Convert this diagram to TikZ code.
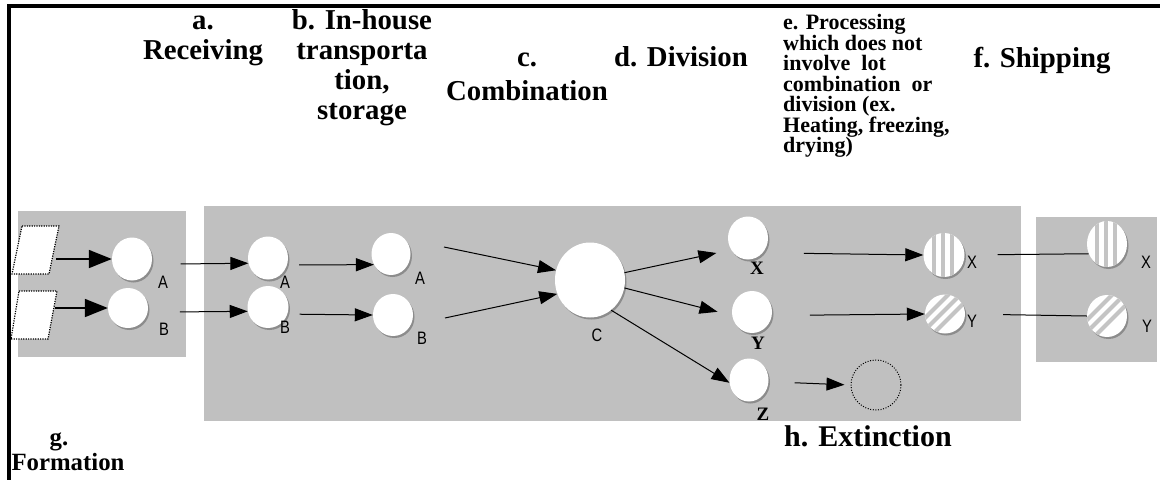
\documentclass[tikz,border=0pt]{standalone}
\usepackage{fontspec}
\setmainfont{Liberation Serif}
\newfontfamily\labfont{Liberation Sans}
\usetikzlibrary{arrows.meta,shapes.geometric,shadows,calc}
\definecolor{boxgray}{HTML}{C0C0C0}
\definecolor{shadowgray}{HTML}{8C8C8C}
\definecolor{stripegray}{HTML}{C4C4C4}
\newcommand\tightls{\lineskiplimit=-50pt\relax}
\begin{document}
\begin{tikzpicture}[x=1pt,y=-1pt,
  lot/.style={ellipse, fill=white, inner sep=0pt,
    drop shadow={shadow xshift=1.5pt, shadow yshift=-2pt, fill=shadowgray, opacity=1}},
  vstripes/.style={path picture={
    \foreach \d in {-12,-3,6}{\fill[stripegray] ([xshift=\d pt]path picture bounding box.north) rectangle ([xshift=\d pt+4pt]path picture bounding box.south);}}},
  dstripes/.style={path picture={
    \foreach \d in {-16,-4,8}{\draw[stripegray, line width=4pt] ([xshift=\d pt]path picture bounding box.center) ++(-30pt,-30pt) -- ++(60pt,60pt);}}},
  para/.style={draw, fill=white, line width=1.2pt, dash pattern=on 1.2pt off 1.2pt},
  grbox/.style={fill=boxgray, draw=none},
  hd/.style={font=\bfseries\fontsize{28.8}{30}\selectfont\tightls, align=center, inner sep=0pt},
  lab/.style={font=\labfont\fontsize{18}{18}\selectfont, inner sep=0pt},
  blab/.style={font=\bfseries\fontsize{19}{19}\selectfont, inner sep=0pt},
  bigarr/.style={-{Triangle[length=23pt,width=18pt]}, line width=1.8pt},
  arr/.style={-{Triangle[length=18pt,width=13pt]}, line width=1pt},
  plain/.style={line width=1pt}
]
\useasboundingbox (0,0) rectangle (1160,480);
% frame
\draw[line width=4pt] (1160,5.5) -- (9,5.5) -- (9,480);
% grey boxes
\fill[grbox] (18,211) rectangle (186,357);
\fill[grbox] (204,206) rectangle (1021,421);
\fill[grbox] (1036,217) rectangle (1157,362);

% headings
\node[hd, anchor=north] (ha) at (203,8) {\strut a.\\Receiving};
\node[hd, anchor=north] (hb) at (362,8) {\strut b. In-house\\transporta\\tion,\\storage};
\node[hd, font=\bfseries\fontsize{28.8}{34}\selectfont\tightls, anchor=north] (hc) at (527,42.2) {\strut c.\\Combination};
\node[hd, anchor=base] (hdv) at (681,66) {d. Division};
\node[font=\bfseries\fontsize{22}{20.5}\selectfont\tightls, align=left, inner sep=0pt, anchor=north west] (he) at (783,14.5)
  {\strut e. Processing\\which does not\\involve\ \ lot\\combination\ \ or\\division (ex.\\Heating, freezing,\\drying)};
\node[hd, anchor=base] (hf) at (1042,67) {f. Shipping};
\node[font=\bfseries\fontsize{24.8}{25}\selectfont\tightls, align=center, inner sep=0pt, anchor=north] (hg) at (68,427.5) {\strut g.\hspace*{18pt}\\Formation};
\node[hd, font=\bfseries\fontsize{30}{30}\selectfont, anchor=base] (hh) at (868,446) {h. Extinction};

% formation inputs
\draw[para] (22,226) -- (59,226) -- (49,274) -- (12,274) -- cycle;
\draw[para] (19,291) -- (57,291) -- (48,339) -- (11,339) -- cycle;
\coordinate (p1) at (56,259);
\coordinate (p2) at (55,308);

% lots
\node[lot, minimum width=40pt, minimum height=43pt] (a0) at (132,259) {};
\node[lot, minimum width=40pt, minimum height=40pt] (b0) at (128,308) {};
\node[lot, minimum width=40pt, minimum height=43pt] (a1) at (268,258) {};
\node[lot, minimum width=41pt, minimum height=42pt] (b1) at (268,307) {};
\node[lot, minimum width=39pt, minimum height=42pt] (a2) at (391,254) {};
\node[lot, minimum width=40pt, minimum height=42pt] (b2) at (393,315) {};
\node[lot, minimum width=70pt, minimum height=75pt] (c) at (590,280) {};
\node[lot, minimum width=40pt, minimum height=43pt] (x1) at (748,238) {};
\node[lot, minimum width=40pt, minimum height=42pt] (y1) at (752,312) {};
\node[lot, minimum width=39pt, minimum height=43pt] (z1) at (749,380) {};
\node[lot, vstripes, minimum width=41pt, minimum height=44pt] (x2) at (944,255) {};
\node[lot, dstripes, minimum width=40pt, minimum height=39pt] (y2) at (945,314) {};
\node[lot, vstripes, minimum width=40pt, minimum height=46pt] (x3) at (1107,244) {};
\node[lot, dstripes, minimum width=40pt, minimum height=42pt] (y3) at (1107,316) {};
\node[circle, draw, line width=1pt, dash pattern=on 1pt off 1.6pt, minimum size=50pt, inner sep=0pt] (ext) at (876,385) {};

% labels
\node[lab] (la0) at (163,282) {\scalebox{0.82}[1]{A}};
\node[lab] (lb0) at (164,329) {\scalebox{0.82}[1]{B}};
\node[lab] (la1) at (285,282) {\scalebox{0.82}[1]{A}};
\node[lab] (lb1) at (285,327) {\scalebox{0.82}[1]{B}};
\node[lab] (la2) at (420,278) {\scalebox{0.82}[1]{A}};
\node[lab] (lb2) at (422,338) {\scalebox{0.82}[1]{B}};
\node[lab] (lc) at (597,335) {\scalebox{0.82}[1]{C}};
\node[blab] (lx1) at (757,268) {X};
\node[blab] (ly1) at (758,343) {Y};
\node[blab] (lz1) at (763,414) {Z};
\node[lab] (lx2) at (972,262) {\scalebox{0.82}[1]{X}};
\node[lab] (ly2) at (972,321) {\scalebox{0.82}[1]{Y}};
\node[lab] (lx3) at (1146,262) {\scalebox{0.82}[1]{X}};
\node[lab] (ly3) at (1147,326) {\scalebox{0.82}[1]{Y}};

% connectors
\draw[bigarr] (p1 |- a0.west) -- (a0.west);
\draw[bigarr] (p2 |- b0.west) -- (b0.west);
\draw[arr, shorten <=29pt] (a0.-15) -- (a1.-165);
\draw[arr, shorten <=32pt] (b0.-12) -- (b1.-168);
\draw[arr, shorten <=12pt] (a1.-20) -- (a2.-148);
\draw[arr, shorten <=12pt] (b1.-20) -- (b2.west);
\coordinate (ca) at (444,247);
\coordinate (cb) at (445,318);
\draw[arr] (ca) -- (c.164);
\draw[arr] (cb) -- (c.203);
\draw[arr, shorten >=15pt] (c.12) -- (x1.215);
\draw[arr, shorten >=15pt] (c.-13) -- (y1.190);
\draw[arr] (c.-55) -- (z1.188);
\draw[arr, shorten <=41pt] (x1.-45) -- (x2.west);
\draw[arr, shorten <=38pt] (y1.-10) -- (y2.west);
\draw[arr, shorten <=26pt, shorten >=6pt] (z1.-5) -- (ext.west);
\draw[plain, shorten <=33pt] (x2.east) -- (x3.208);
\draw[plain, shorten <=38pt] (y2.east) -- (y3.west);
\end{tikzpicture}
\end{document}
